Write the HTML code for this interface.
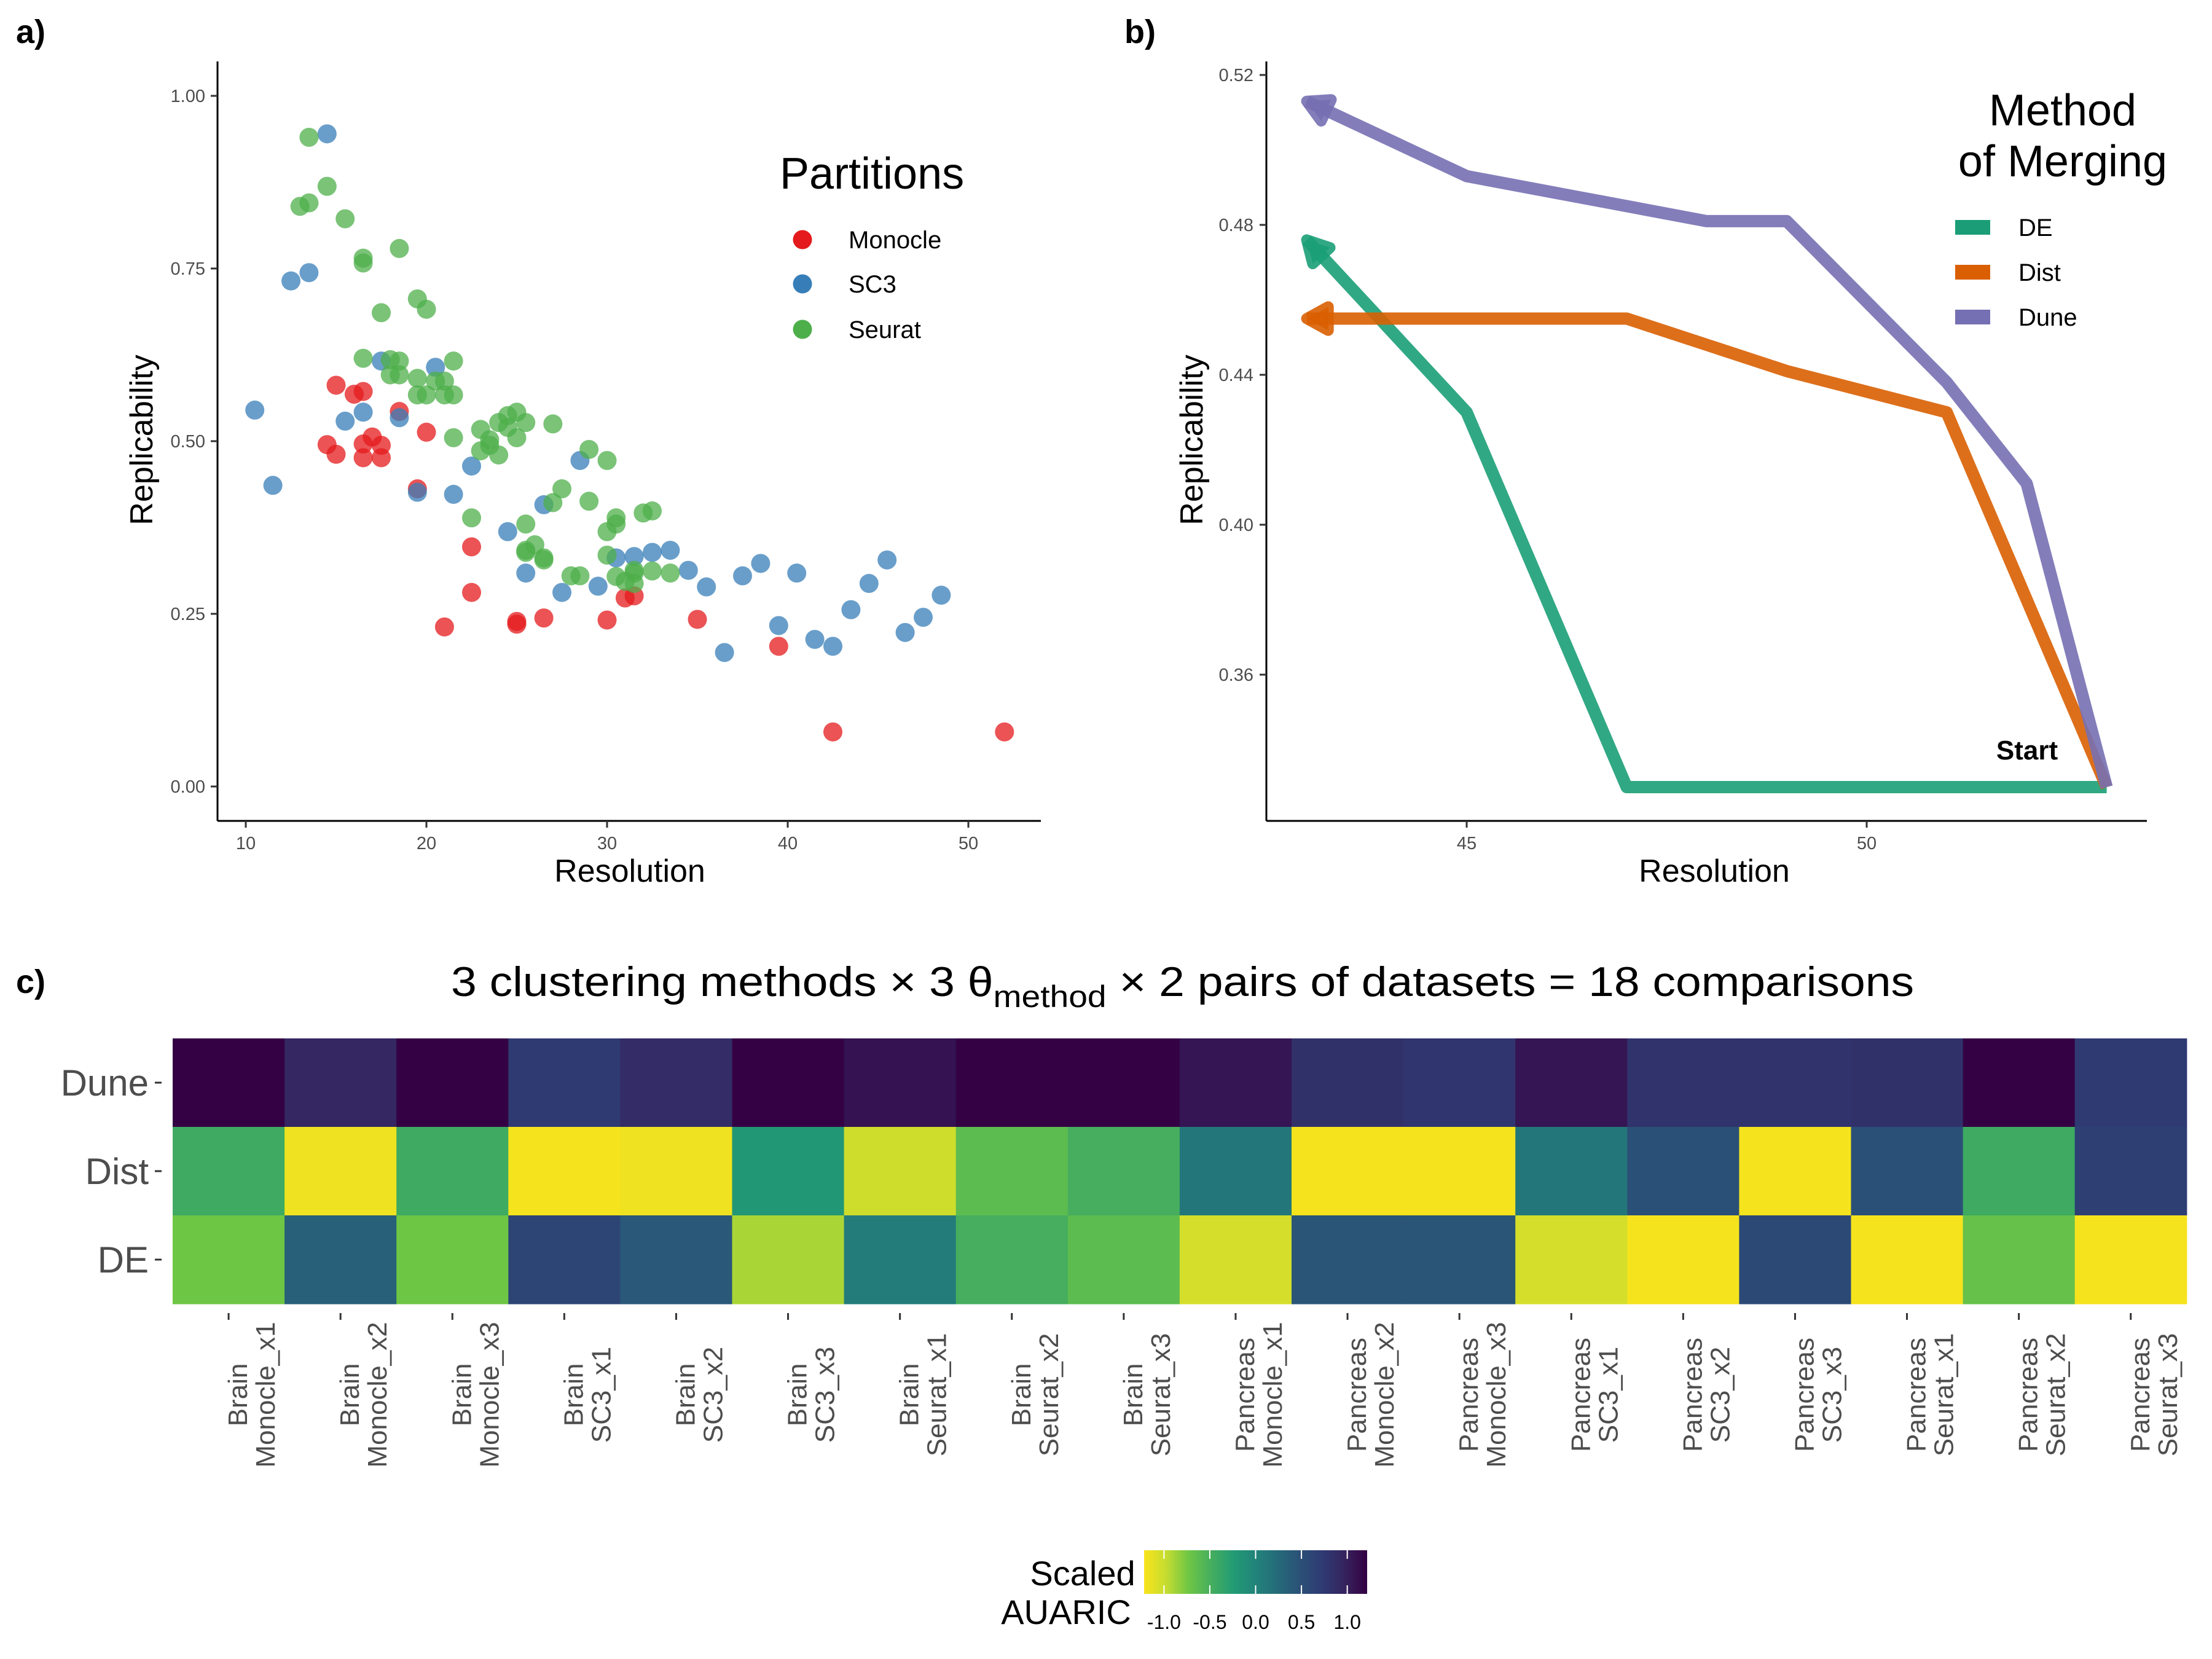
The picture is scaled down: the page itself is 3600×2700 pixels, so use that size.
<!DOCTYPE html>
<html><head><meta charset="utf-8"><style>
html,body{margin:0;padding:0;background:#fff;}
svg{display:block;font-family:"Liberation Sans",Arial,sans-serif;}
</style></head><body>
<svg id="fig" width="3600" height="2700" viewBox="0 0 3600 2700" xmlns="http://www.w3.org/2000/svg">
<rect width="3600" height="2700" fill="#fff"/>
<text x="26" y="70" font-size="54" font-weight="bold">a)</text>
<text x="1830" y="70" font-size="54" font-weight="bold">b)</text>
<text x="26" y="1616" font-size="54" font-weight="bold">c)</text>
<g id="pa"></g>
<g id="pb"></g>
<g id="pc"></g>
</svg>
<script>
// ---------- Panel a data ----------
const monocleX=[15,16,16.5,18.5,20,14.5,15,16.5,17,17.5,16.5,17.5,19.5,22.5,22.5,21,25,25,26.5,30,31,31.5,35,39.5,42.5,52];
const monocleY=[0.581,0.568,0.572,0.543,0.513,0.495,0.481,0.496,0.506,0.494,0.476,0.476,0.431,0.347,0.281,0.231,0.239,0.235,0.244,0.241,0.273,0.276,0.242,0.203,0.079,0.079];
const sc3X=[14.5,12.5,13.5,10.5,11.5,15.5,16.5,17.5,18.5,20.5,19.5,21.5,22.5,24.5,25.5,26.5,28.5,27.5,29.5,30.5,31.5,32.5,33.5,34.5,35.5,36.5,37.5,38.5,39.5,40.5,41.5,42.5,43.5,44.5,45.5,46.5,47.5,48.5];
const sc3Y=[0.945,0.732,0.744,0.545,0.436,0.529,0.542,0.616,0.534,0.607,0.426,0.423,0.464,0.369,0.309,0.408,0.472,0.281,0.290,0.331,0.333,0.339,0.342,0.313,0.289,0.194,0.305,0.323,0.233,0.309,0.213,0.203,0.256,0.294,0.328,0.223,0.245,0.277];
const seuratX=[13.5,14.5,13,13.5,15.5,18.5,16.5,16.5,19.5,20,17.5,16.5,18,18.5,21.5,18,18.5,19.5,20.5,21,19.5,20,21,21.5,21.5,23,23.5,23.5,23,24,24,24.5,25,25.5,24.5,25,27,29,30,27.5,27,29,30.5,30.5,30,32,32.5,22.5,25.5,26,25.5,25.5,26.5,26.5,30,28,28.5,30.5,31,31.5,31.5,31.5,32.5,33.5];
const seuratY=[0.940,0.869,0.840,0.845,0.822,0.779,0.765,0.758,0.706,0.691,0.686,0.620,0.618,0.616,0.616,0.596,0.596,0.591,0.587,0.587,0.567,0.567,0.567,0.567,0.505,0.517,0.502,0.494,0.486,0.480,0.527,0.537,0.542,0.527,0.520,0.505,0.525,0.488,0.472,0.431,0.411,0.413,0.389,0.380,0.369,0.396,0.399,0.389,0.380,0.350,0.342,0.339,0.331,0.328,0.335,0.305,0.305,0.304,0.297,0.313,0.309,0.294,0.312,0.309];
const aXTicks=[10,20,30,40,50];
const aYTicks=[0,0.25,0.5,0.75,1.0];
const aYLabels=["0.00","0.25","0.50","0.75","1.00"];
// ---------- Panel b data ----------
const deX=[53,47,45,43];
const deY=[0.330,0.330,0.430,0.476];
const distX=[53,51,49,47,43];
const distY=[0.330,0.430,0.441,0.455,0.455];
const duneX=[53,52,51,49,48,45,43];
const duneY=[0.330,0.411,0.438,0.481,0.481,0.493,0.513];
const bXTicks=[45,50];
const bYTicks=[0.36,0.40,0.44,0.48,0.52];
// ---------- Panel c data ----------
const colGroups=["Brain","Brain","Brain","Brain","Brain","Brain","Brain","Brain","Brain","Pancreas","Pancreas","Pancreas","Pancreas","Pancreas","Pancreas","Pancreas","Pancreas","Pancreas"];
const colMethods=["Monocle_x1","Monocle_x2","Monocle_x3","SC3_x1","SC3_x2","SC3_x3","Seurat_x1","Seurat_x2","Seurat_x3","Monocle_x1","Monocle_x2","Monocle_x3","SC3_x1","SC3_x2","SC3_x3","Seurat_x1","Seurat_x2","Seurat_x3"];
const rowNames=["Dune","Dist","DE"];
const duneVals=[1.2,0.93,1.2,0.73,0.88,1.2,1.09,1.2,1.2,1.07,0.83,0.78,1.07,0.8,0.8,0.83,1.2,0.73];
const distVals=[-0.44,-1.17,-0.44,-1.2,-1.17,-0.2,-1.02,-0.63,-0.49,0.12,-1.2,-1.2,0.12,0.49,-1.2,0.49,-0.44,0.68];
const deVals=[-0.73,0.34,-0.73,0.61,0.41,-0.9,0.07,-0.49,-0.63,-1.05,0.44,0.44,-1.05,-1.2,0.56,-1.2,-0.68,-1.2];
const cbTicks=[-1.0,-0.5,0.0,0.5,1.0];
const cbLabels=["-1.0","-0.5","0.0","0.5","1.0"];

const NS="http://www.w3.org/2000/svg";
function mk(parent,tag,attrs,text){const e=document.createElementNS(NS,tag);for(const k in attrs)e.setAttribute(k,attrs[k]);if(text!==undefined)e.textContent=text;parent.appendChild(e);return e;}

// ===== Panel a =====
(function(){
const g=document.getElementById('pa');
const ax=v=>400+(v-10)*29.4, ay=v=>1280-v*1124;
let l=mk(g,'line',{x1:354,y1:100,x2:354,y2:1336,stroke:'#000','stroke-width':3});


l=mk(g,'line',{x1:354,y1:1336,x2:1694,y2:1336,stroke:'#000','stroke-width':3});


aXTicks.forEach(v=>{
 const t=mk(g,'line',{x1:ax(v),y1:1336,x2:ax(v),y2:1347,stroke:'#333','stroke-width':3});
 
 
 const tx=mk(g,'text',{x:ax(v),y:1382,'font-size':29,fill:'#4d4d4d','text-anchor':'middle'},String(v));
 
 
});
aYTicks.forEach((v,i)=>{
 const t=mk(g,'line',{x1:343,y1:ay(v),x2:354,y2:ay(v),stroke:'#333','stroke-width':3});
 
 
 const tx=mk(g,'text',{x:334,y:ay(v)+10,'font-size':29,fill:'#4d4d4d','text-anchor':'end'},aYLabels[i]);
 
 
});
let t=mk(g,'text',{x:1025,y:1435,'font-size':52,'text-anchor':'middle'},'Resolution');


t=mk(g,'text',{transform:'translate(248,716) rotate(-90)','font-size':52,'text-anchor':'middle'},'Replicability');


const series=[[monocleX,monocleY,'#E41A1C','monocle'],[sc3X,sc3Y,'#377EB8','sc3'],[seuratX,seuratY,'#4DAF4A','seurat']];
series.forEach(s=>{
 s[0].forEach((x,i)=>{
  const c=mk(g,'circle',{cx:ax(x),cy:ay(s[1][i]),r:15.5,fill:s[2],'fill-opacity':0.75});
  
  
 });
});
t=mk(g,'text',{x:1269,y:307,'font-size':72},'Partitions');


const lab=['Monocle','SC3','Seurat'], ly=[390,462,536];
series.forEach((s,i)=>{
 const c=mk(g,'circle',{cx:1306,cy:ly[i],r:15.5,fill:s[2]});
 
 
 const tx=mk(g,'text',{x:1381,y:ly[i]+14,'font-size':40},lab[i]);
 
 
});
})();

// ===== Panel b =====
(function(){
const g=document.getElementById('pb');
const bx=v=>2387+(v-45)*130.2, by=v=>122+(0.52-v)*6100;
let l=mk(g,'line',{x1:2061,y1:100,x2:2061,y2:1336,stroke:'#000','stroke-width':3});


l=mk(g,'line',{x1:2061,y1:1336,x2:3494,y2:1336,stroke:'#000','stroke-width':3});


bXTicks.forEach(v=>{
 const t=mk(g,'line',{x1:bx(v),y1:1336,x2:bx(v),y2:1347,stroke:'#333','stroke-width':3});
 
 
 const tx=mk(g,'text',{x:bx(v),y:1382,'font-size':29,fill:'#4d4d4d','text-anchor':'middle'},String(v));
 
 
});
bYTicks.forEach(v=>{
 const t=mk(g,'line',{x1:2050,y1:by(v),x2:2061,y2:by(v),stroke:'#333','stroke-width':3});
 
 
 const tx=mk(g,'text',{x:2040,y:by(v)+10,'font-size':29,fill:'#4d4d4d','text-anchor':'end'},v.toFixed(2));
 
 
});
let t=mk(g,'text',{x:2790,y:1435,'font-size':52,'text-anchor':'middle'},'Resolution');


t=mk(g,'text',{transform:'translate(1957,716) rotate(-90)','font-size':52,'text-anchor':'middle'},'Replicability');


const series=[[deX,deY,'#1B9E77','de'],[distX,distY,'#D95F02','dist'],[duneX,duneY,'#7570B3','dune']];
series.forEach(s=>{
 const pts=s[0].map((x,i)=>[bx(x),by(s[1][i])]);
 const p=mk(g,'polyline',{points:pts.map(q=>q.join(',')).join(' '),fill:'none',stroke:s[2],'stroke-width':20,'stroke-opacity':0.9,'stroke-linejoin':'round'});
 
 
 const n=pts.length, tip=pts[n-1], prev=pts[n-2];
 const ang=Math.atan2(tip[1]-prev[1],tip[0]-prev[0]);
 const L=40, W=0.5;
 const a1=[tip[0]-L*Math.cos(ang-W),tip[1]-L*Math.sin(ang-W)];
 const a2=[tip[0]-L*Math.cos(ang+W),tip[1]-L*Math.sin(ang+W)];
 const ah=mk(g,'polygon',{points:[tip,a1,a2].map(q=>q.join(',')).join(' '),fill:s[2],stroke:s[2],'stroke-width':18,'stroke-linejoin':'round','fill-opacity':0.9,'stroke-opacity':0.9});
 
 
});
t=mk(g,'text',{x:3299,y:1236,'font-size':44,'font-weight':'bold','text-anchor':'middle'},'Start');


t=mk(g,'text',{x:3357,y:204,'font-size':72,'text-anchor':'middle'},'Method');


t=mk(g,'text',{x:3357,y:287,'font-size':72,'text-anchor':'middle'},'of Merging');


const lab=['DE','Dist','Dune'], ly=[370,443,516];
series.forEach((s,i)=>{
 const r=mk(g,'rect',{x:3182,y:ly[i]-12,width:57,height:24,fill:s[2]});
 
 
 const tx=mk(g,'text',{x:3285,y:ly[i]+14,'font-size':40},lab[i]);
 
 
});
})();

// ===== Panel c =====
(function(){
const g=document.getElementById('pc');
const stops=['#340042','#35235e','#2f3a73','#2b5077','#256a79','#22837a','#229b74','#45ae5e','#6ec645','#c4dc30','#f9e31c'];
function hex(h){return [1,3,5].map(i=>parseInt(h.substr(i,2),16));}
function vir(t){t=Math.max(0,Math.min(1,t));const f=t*10,i=Math.min(9,Math.floor(f)),r=f-i;const a=hex(stops[i]),b=hex(stops[i+1]);return 'rgb('+a.map((v,k)=>Math.round(v+(b[k]-v)*r)).join(',')+')';}
const col=v=>vir((1.217-v)/2.434);
const x0=281,cw=182.1,y0=1690,rh=144;
const rows=[duneVals,distVals,deVals];
rows.forEach((vals,r)=>{
 vals.forEach((v,c)=>{
  const e=mk(g,'rect',{x:x0+c*cw,y:y0+r*rh,width:cw+0.6,height:rh+0.6,fill:col(v)});
  
  
 });
 const tk=mk(g,'line',{x1:252,y1:y0+r*rh+rh/2,x2:263,y2:y0+r*rh+rh/2,stroke:'#333','stroke-width':3});
 
 
 const tx=mk(g,'text',{x:242,y:y0+r*rh+rh/2+21,'font-size':60,fill:'#4d4d4d','text-anchor':'end'},rowNames[r]);
 
 
});
colMethods.forEach((m,c)=>{
 const cx=x0+c*cw+cw/2;
 const tk=mk(g,'line',{x1:cx,y1:2137,x2:cx,y2:2148,stroke:'#333','stroke-width':3});
 
 
 const t=mk(g,'text',{transform:'translate('+cx+',2270) rotate(-90)','font-size':44,fill:'#4d4d4d','text-anchor':'middle'});
 
 
 mk(t,'tspan',{x:0,y:30},colGroups[c]);
 mk(t,'tspan',{x:0,y:75},m);
});
// title
const tt=mk(g,'text',{x:734,y:1621,'font-size':68,textLength:2381,lengthAdjust:'spacingAndGlyphs'});


mk(tt,'tspan',{},'3 clustering methods × 3 θ');
mk(tt,'tspan',{dy:18,'font-size':50},'method');
mk(tt,'tspan',{dy:-18},'  × 2 pairs of datasets = 18 comparisons');
// colorbar
const cbx0=1862,cbx1=2225,cby0=2523,cby1=2594;
const defs=mk(g,'defs',{});
const lg=mk(defs,'linearGradient',{id:'cbg',x1:0,y1:0,x2:1,y2:0});
for(let i=0;i<=20;i++){mk(lg,'stop',{offset:(i/20),'stop-color':vir(1-i/20)});}
const bar=mk(g,'rect',{x:cbx0,y:cby0,width:cbx1-cbx0,height:cby1-cby0,fill:'url(#cbg)'});


const cbxs=v=>cbx0+(v+1.217)/2.434*(cbx1-cbx0);
cbTicks.forEach((v,i)=>{
 const a=mk(g,'line',{x1:cbxs(v),y1:cby0,x2:cbxs(v),y2:cby0+14,stroke:'#fff','stroke-width':2});
 
 
 const b=mk(g,'line',{x1:cbxs(v),y1:cby1-14,x2:cbxs(v),y2:cby1,stroke:'#fff','stroke-width':2});
 
 
 const tx=mk(g,'text',{x:cbxs(v),y:2651,'font-size':32,'text-anchor':'middle'},cbLabels[i]);
 
 
});
let t=mk(g,'text',{x:1762,y:2580,'font-size':56,'text-anchor':'middle'},'Scaled');


t=mk(g,'text',{x:1735,y:2643,'font-size':56,'text-anchor':'middle'},'AUARIC');


})();
</script>
</body></html>
